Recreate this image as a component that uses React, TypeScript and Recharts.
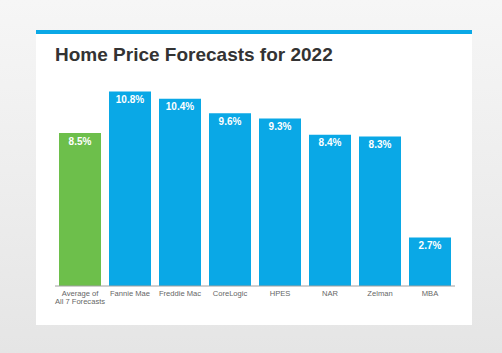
import { BarChart, Bar, XAxis, YAxis, Cell, LabelList } from 'recharts'

const sources = ['Average of\nAll 7 Forecasts', 'Fannie Mae', 'Freddie Mac', 'CoreLogic', 'HPES', 'NAR', 'Zelman', 'MBA']
const forecasts = [8.5, 10.8, 10.4, 9.6, 9.3, 8.4, 8.3, 2.7]

const chartData = sources.map((name, i) => ({ name, value: forecasts[i] }))

const BLUE = '#0aa8e6'
const GREEN = '#6dbf4b'

function SourceTick({ x, y, payload }: any) {
  const lines = String(payload.value).split('\n')
  return (
    <text x={x} y={y - 1} textAnchor="middle" fill="#666" fontSize={7.6} fontFamily="'Liberation Sans', Arial, sans-serif">
      {lines.map((line, i) => (
        <tspan key={i} x={x} dy={i === 0 ? 0 : 8.5} dominantBaseline="central">
          {line}
        </tspan>
      ))}
    </text>
  )
}

function ValueLabel({ x, y, width, value }: any) {
  return (
    <text
      x={x + width / 2}
      y={y + 8}
      textAnchor="middle"
      dominantBaseline="central"
      fill="#fff"
      fontSize={10}
      fontWeight="bold"
      fontFamily="'Liberation Sans', Arial, sans-serif"
    >
      {value}%
    </text>
  )
}

export default function App() {
  return (
    <div
      style={{
        position: 'absolute',
        left: 0,
        top: 0,
        width: 502,
        height: 353,
        background: 'linear-gradient(to bottom, #f6f6f6 0%, #ececec 60%, #e5e5e5 100%)',
        overflow: 'hidden',
      }}
    >
      <div
        style={{
          position: 'absolute',
          left: 36,
          top: 30,
          width: 436,
          height: 295,
          background: '#fff',
          borderTop: `4px solid ${BLUE}`,
          boxSizing: 'border-box',
        }}
      />
      <div
        style={{
          position: 'absolute',
          left: 55,
          top: 44,
          fontFamily: "'Liberation Sans', Arial, sans-serif",
          fontWeight: 'bold',
          fontSize: 19,
          color: '#333',
          whiteSpace: 'nowrap',
        }}
      >
        Home Price Forecasts for 2022
      </div>
      <div style={{ position: 'absolute', left: 0, top: 0 }}>
        <BarChart width={502} height={353} data={chartData} margin={{ top: 70, right: 47, bottom: 37, left: 55 }}>
          <XAxis
            dataKey="name"
            axisLine={{ stroke: '#a0a0a0' }}
            tickLine={false}
            height={30}
            interval={0}
            tick={<SourceTick />}
          />
          <YAxis hide domain={[0, 12]} width={0} />
          <Bar dataKey="value" barSize={42} isAnimationActive={false}>
            {chartData.map((entry, index) => (
              <Cell key={`cell-${index}`} fill={index === 0 ? GREEN : BLUE} />
            ))}
            <LabelList dataKey="value" content={<ValueLabel />} />
          </Bar>
        </BarChart>
      </div>
    </div>
  )
}
